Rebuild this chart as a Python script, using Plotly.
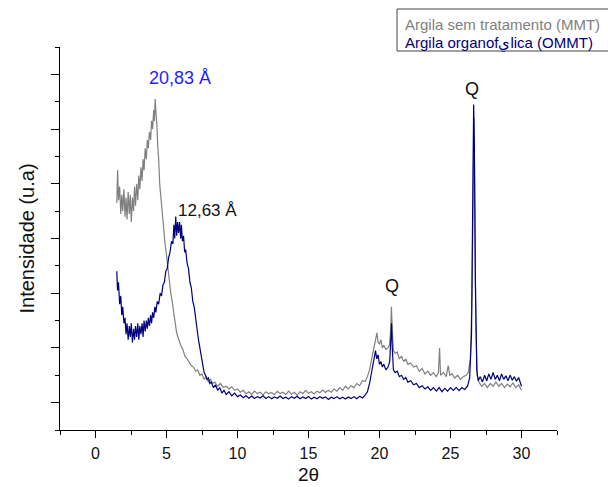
import plotly.graph_objects as go

# Argila sem tratamento (MMT) - gray
mmt_x = [1.50, 1.56, 1.62, 1.70, 1.78, 1.85, 1.92, 2.00, 2.08, 2.15, 2.22, 2.30, 2.38, 2.45, 2.52, 2.60, 2.68, 2.75, 2.82, 2.90,
         2.98, 3.05, 3.12, 3.20, 3.28, 3.35, 3.42, 3.50, 3.58, 3.65, 3.72, 3.80, 3.88, 3.95, 4.02, 4.10, 4.15, 4.20, 4.26, 4.32,
         4.38, 4.45, 4.52, 4.60, 4.70, 4.80, 4.90, 5.00, 5.10, 5.20, 5.30, 5.40, 5.50, 5.60, 5.70, 5.80, 5.90, 6.00, 6.15, 6.30,
         6.45, 6.60, 6.75, 6.90, 7.05, 7.20, 7.35, 7.50, 7.65, 7.80, 7.95, 8.10, 8.25, 8.40, 8.60, 8.80, 9.00, 9.20, 9.40, 9.60,
         9.80, 10.0, 10.2, 10.4, 10.6, 10.8, 11.0, 11.2, 11.4, 11.6, 11.8, 12.0, 12.2, 12.4, 12.6, 12.8, 13.0, 13.2, 13.4, 13.6,
         13.8, 14.0, 14.2, 14.4, 14.6, 14.8, 15.0, 15.2, 15.4, 15.6, 15.8, 16.0, 16.2, 16.4, 16.6, 16.8, 17.0, 17.2, 17.4, 17.6,
         17.8, 18.0, 18.2, 18.4, 18.6, 18.8, 19.0, 19.15, 19.3, 19.45, 19.55, 19.65, 19.75, 19.82, 19.9, 20.0, 20.1, 20.2, 20.3, 20.45,
         20.6, 20.7, 20.78, 20.84, 20.9, 20.98, 21.1, 21.25, 21.4, 21.55, 21.7, 21.85, 22.0, 22.2, 22.4, 22.6, 22.8, 23.0, 23.2, 23.4,
         23.6, 23.8, 24.0, 24.15, 24.23, 24.3, 24.5, 24.7, 24.84, 24.95, 25.1, 25.3, 25.5, 25.7, 25.9, 26.1, 26.25, 26.4, 26.52, 26.6,
         26.65, 26.7, 26.78, 26.88, 27.0, 27.2, 27.4, 27.6, 27.8, 28.0, 28.2, 28.4, 28.6, 28.8, 29.0, 29.2, 29.4, 29.6, 29.8, 30.0]
mmt_y = [8.3, 9.5, 8.4, 8.9, 7.9, 8.6, 8.0, 8.8, 7.8, 8.5, 7.7, 8.7, 7.9, 8.6, 7.6, 8.5, 8.0, 8.9, 8.2, 9.0,
         8.4, 9.3, 8.8, 9.6, 9.1, 9.9, 9.5, 10.3, 9.9, 10.6, 10.3, 10.9, 10.6, 11.3, 11.0, 11.7, 11.3, 12.1, 11.6, 11.2,
         10.4, 9.9, 9.0, 8.5, 8.0, 7.3, 6.8, 6.4, 5.9, 5.5, 5.0, 4.7, 4.3, 3.9, 3.6, 3.4, 3.2, 3.1, 2.95, 2.7,
         2.6, 2.45, 2.35, 2.3, 2.15, 2.2, 2.0, 2.05, 1.85, 1.95, 1.75, 1.85, 1.7, 1.75, 1.6, 1.7, 1.55, 1.6, 1.5, 1.58,
         1.45, 1.5, 1.38, 1.45, 1.32, 1.40, 1.30, 1.42, 1.33, 1.38, 1.28, 1.40, 1.32, 1.37, 1.29, 1.41, 1.33, 1.38, 1.30, 1.42,
         1.31, 1.38, 1.27, 1.40, 1.33, 1.45, 1.34, 1.40, 1.32, 1.42, 1.36, 1.46, 1.37, 1.45, 1.38, 1.50, 1.42, 1.55, 1.45, 1.60,
         1.50, 1.62, 1.55, 1.70, 1.62, 1.80, 1.78, 1.95, 2.2, 2.6, 2.9, 3.2, 3.35, 3.55, 3.2, 3.15, 3.3, 3.0, 3.1, 2.95,
         3.0, 3.1, 3.6, 4.5, 3.6, 2.9, 2.8, 2.85, 2.6, 2.7, 2.5, 2.6, 2.4, 2.45, 2.3, 2.35, 2.15, 2.25, 2.05, 2.15,
         2.0, 2.1, 1.95, 2.1, 3.0, 2.0, 2.1, 1.95, 2.35, 2.0, 2.05, 1.9, 2.0, 1.85, 1.95, 2.0, 2.1, 2.6, 5.0, 10.0,
         11.4, 9.0, 4.0, 2.0, 1.75, 1.6, 1.7, 1.55, 1.7, 1.6, 1.75, 1.6, 1.7, 1.55, 1.68, 1.58, 1.72, 1.55, 1.65, 1.45]

# Argila organofílica (OMMT) - navy
ommt_x = [1.50, 1.55, 1.62, 1.70, 1.78, 1.85, 1.92, 2.00, 2.08, 2.15, 2.22, 2.30, 2.38, 2.45, 2.52, 2.60, 2.68, 2.75, 2.82, 2.90,
          2.98, 3.05, 3.12, 3.20, 3.28, 3.35, 3.42, 3.50, 3.58, 3.65, 3.72, 3.80, 3.88, 3.95, 4.02, 4.10, 4.18, 4.25, 4.35, 4.45,
          4.55, 4.65, 4.75, 4.85, 4.95, 5.05, 5.15, 5.25, 5.35, 5.45, 5.52, 5.58, 5.65, 5.72, 5.78, 5.85, 5.92, 6.00, 6.05, 6.12,
          6.2, 6.28, 6.35, 6.45, 6.55, 6.65, 6.75, 6.85, 6.95, 7.05, 7.15, 7.25, 7.35, 7.45, 7.55, 7.65, 7.75, 7.85, 7.95, 8.05,
          8.15, 8.3, 8.45, 8.6, 8.75, 8.9, 9.05, 9.2, 9.4, 9.6, 9.8, 10.0, 10.2, 10.4, 10.6, 10.8, 11.0, 11.2, 11.4, 11.6,
          11.8, 12.0, 12.2, 12.4, 12.6, 12.8, 13.0, 13.2, 13.4, 13.6, 13.8, 14.0, 14.2, 14.4, 14.6, 14.8, 15.0, 15.2, 15.4, 15.6,
          15.8, 16.0, 16.2, 16.4, 16.6, 16.8, 17.0, 17.2, 17.4, 17.6, 17.8, 18.0, 18.2, 18.4, 18.6, 18.8, 19.0, 19.15, 19.3, 19.45,
          19.55, 19.65, 19.72, 19.8, 19.9, 20.0, 20.1, 20.2, 20.3, 20.45, 20.6, 20.72, 20.8, 20.85, 20.9, 20.98, 21.1, 21.25, 21.4, 21.55,
          21.7, 21.85, 22.0, 22.2, 22.4, 22.6, 22.8, 23.0, 23.2, 23.4, 23.6, 23.8, 24.0, 24.2, 24.4, 24.6, 24.8, 25.0, 25.2, 25.4,
          25.6, 25.8, 26.0, 26.2, 26.35, 26.48, 26.56, 26.63, 26.68, 26.75, 26.85, 26.95, 27.1, 27.25, 27.4, 27.55, 27.7, 27.85, 28.0, 28.15,
          28.3, 28.45, 28.6, 28.75, 28.9, 29.05, 29.2, 29.35, 29.5, 29.65, 29.8, 29.95, 30.0]
ommt_y = [5.8, 5.1, 5.4, 4.6, 4.9, 4.2, 4.5, 3.9, 4.1, 3.5, 3.9, 3.3, 3.8, 3.4, 3.9, 3.2, 3.7, 3.3, 3.8, 3.4,
          3.9, 3.3, 3.8, 3.5, 3.9, 3.4, 4.0, 3.6, 4.0, 3.7, 4.1, 3.8, 4.2, 3.9, 4.3, 4.1, 4.5, 4.3, 4.7, 4.6,
          5.0, 4.9, 5.3, 5.4, 5.8, 5.9, 6.3, 6.5, 6.9, 6.8, 7.5, 7.0, 7.8, 7.1, 7.6, 7.2, 7.6, 7.0, 7.5, 6.9,
          7.1, 6.5, 6.6, 6.1, 5.9, 5.4, 5.2, 4.7, 4.5, 4.0, 3.7, 3.3, 3.0, 2.6, 2.4, 2.1, 2.0, 1.85, 1.9, 1.7,
          1.75, 1.55, 1.65, 1.45, 1.55, 1.35, 1.45, 1.3, 1.4, 1.25, 1.35, 1.22, 1.28, 1.18, 1.25, 1.16, 1.24, 1.15, 1.22, 1.17,
          1.25, 1.15, 1.22, 1.14, 1.21, 1.16, 1.24, 1.15, 1.20, 1.13, 1.22, 1.16, 1.23, 1.14, 1.21, 1.15, 1.22, 1.13, 1.20, 1.14,
          1.22, 1.16, 1.21, 1.12, 1.20, 1.15, 1.22, 1.14, 1.20, 1.13, 1.21, 1.15, 1.22, 1.14, 1.23, 1.17, 1.28, 1.4, 1.7, 2.1,
          2.5, 2.75, 2.9, 2.6, 2.75, 2.4, 2.5, 2.3, 2.4, 2.2, 2.3, 2.5, 3.3, 3.9, 3.0, 2.2, 2.1, 2.15, 1.95, 2.0,
          1.85, 1.92, 1.75, 1.8, 1.65, 1.7, 1.55, 1.62, 1.5, 1.58, 1.45, 1.55, 1.42, 1.55, 1.40, 1.52, 1.42, 1.55, 1.45, 1.56,
          1.44, 1.55, 1.48, 1.6, 1.9, 3.5, 8.0, 11.9, 10.5, 5.5, 2.2, 1.8, 1.95, 1.75, 2.0, 1.8, 2.05, 1.85, 2.1, 1.85,
          2.0, 1.8, 2.05, 1.85, 1.98, 1.8, 2.0, 1.82, 1.95, 1.78, 1.92, 1.7, 1.6]

legend_labels = ["Argila sem tratamento (MMT)", "Argila organofيlica (OMMT)"]
series_colors = ["#808080", "#00007f"]

fig = go.Figure()
fig.add_trace(go.Scatter(x=mmt_x, y=mmt_y, mode="lines", name=legend_labels[0],
                         line=dict(color=series_colors[0], width=1.2)))
fig.add_trace(go.Scatter(x=ommt_x, y=ommt_y, mode="lines", name=legend_labels[1],
                         line=dict(color=series_colors[1], width=1.2)))

font_family = "Liberation Sans, Arial, sans-serif"

annotations = [
    dict(x=5.92, y=12.87, text="20,83 Å", font=dict(size=18, color="#1e1eff")),
    dict(x=7.9, y=8.04, text="12,63 Å", font=dict(size=17, color="#111111")),
    dict(x=20.9, y=5.26, text="Q", font=dict(size=18, color="#111111")),
    dict(x=26.48, y=12.46, text="Q", font=dict(size=18, color="#111111")),
]
for a in annotations:
    a.update(xref="x", yref="y", showarrow=False, xanchor="center", yanchor="middle")
    a["font"]["family"] = font_family

# legend drawn as colored text inside a box
annotations.append(dict(xref="paper", yref="paper", x=(403 - 60) / 497, y=(430 - 24) / 383,
                        text=legend_labels[0], showarrow=False, xanchor="left", yanchor="middle",
                        font=dict(size=15, color=series_colors[0], family=font_family)))
annotations.append(dict(xref="paper", yref="paper", x=(403 - 60) / 497, y=(430 - 43) / 383,
                        text=legend_labels[1], showarrow=False, xanchor="left", yanchor="middle",
                        font=dict(size=15, color=series_colors[1], family=font_family)))

fig.update_layout(
    width=608, height=487,
    margin=dict(l=60, r=51, t=47, b=57),
    paper_bgcolor="white", plot_bgcolor="white",
    showlegend=False,
    font=dict(family=font_family, size=16, color="#111111"),
    annotations=annotations,
    shapes=[dict(type="rect", xref="paper", yref="paper",
                 x0=(397 - 60) / 497, x1=(620 - 60) / 497,
                 y0=(430 - 51) / 383, y1=(430 - 9) / 383,
                 line=dict(color="#444444", width=1), fillcolor="rgba(0,0,0,0)")],
    xaxis=dict(range=[-2.5, 32.5], showgrid=False, zeroline=False, showline=True, linecolor="black", linewidth=1.2,
               automargin=False,
               ticks="outside", tickcolor="black", ticklen=7, tickwidth=1.2, tick0=0, dtick=5,
               tickfont=dict(size=16, color="#111111"), ticklabelstandoff=2,
               minor=dict(ticks="outside", ticklen=4, tickwidth=1.2, tickcolor="black", dtick=2.5, tick0=0),
               title=dict(text="2θ", font=dict(size=19, color="#111111"), standoff=6)),
    yaxis=dict(range=[0, 14], showgrid=False, zeroline=False, showline=True, linecolor="black", linewidth=1.2,
               automargin=False,
               ticks="outside", tickcolor="black", ticklen=8, tickwidth=1.2, tick0=1, dtick=2,
               showticklabels=False,
               minor=dict(ticks="outside", ticklen=4, tickwidth=1.2, tickcolor="black", dtick=2, tick0=0),
               title=dict(text="Intensidade (u.a)", font=dict(size=20, color="#111111"), standoff=10)),
)

fig.write_html("out.html", post_script="document.body.style.margin='0px';",
               config={"displayModeBar": False})
